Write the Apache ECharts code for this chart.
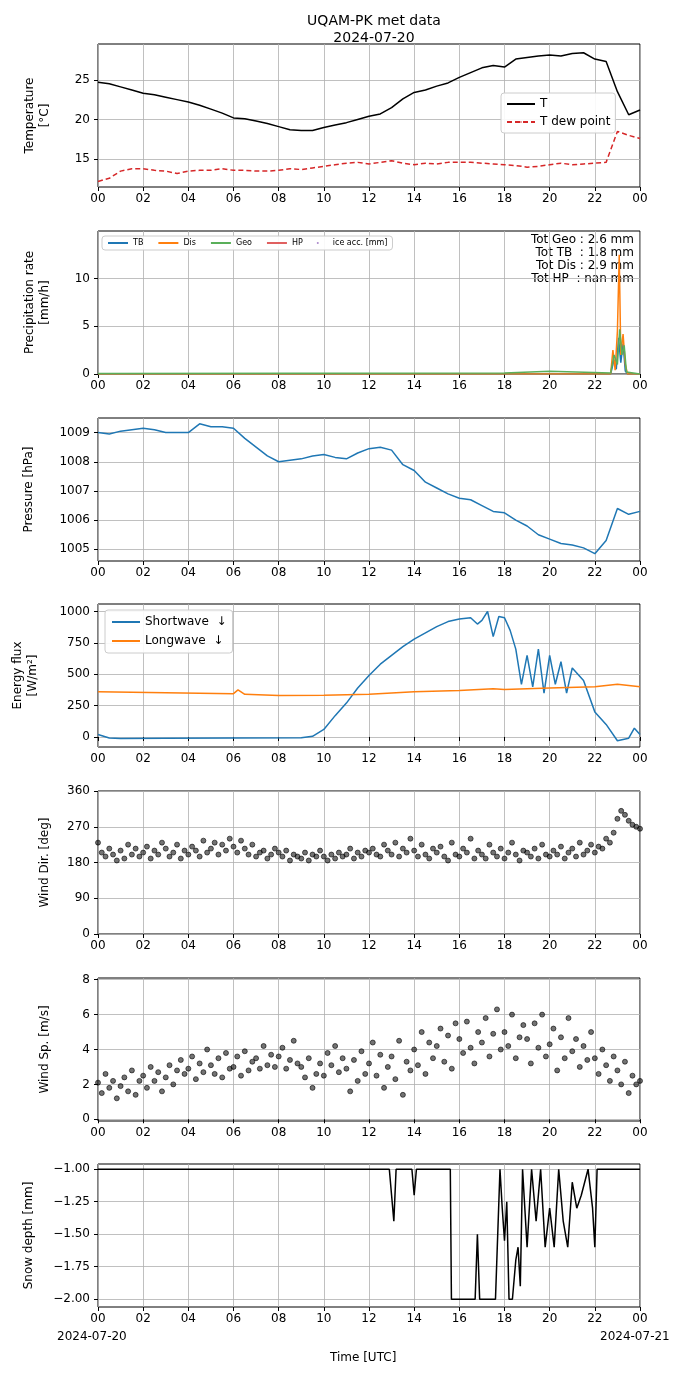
<!DOCTYPE html>
<html><head><meta charset="utf-8">
<script src="https://cdn.jsdelivr.net/npm/echarts@6/dist/echarts.min.js"></script>
<style>html,body{margin:0;padding:0;background:#fff}#c{width:690px;height:1377px}</style>
</head><body><div id="c"></div>
<script>
// half-hourly temperature (°C)
var tempT = [24.7,24.5,24.1,23.7,23.3,23.1,22.8,22.5,22.2,21.8,21.3,20.8,20.2,20.1,19.8,19.5,19.1,18.7,18.6,18.6,19.0,19.3,19.6,20.0,20.4,20.7,21.5,22.6,23.4,23.7,24.2,24.6,25.3,25.9,26.5,26.8,26.6,27.6,27.8,28.0,28.1,28.0,28.3,28.4,27.6,27.3,23.5,20.6,21.2];
var tempTd = [12.2,12.6,13.5,13.8,13.8,13.6,13.5,13.2,13.5,13.6,13.6,13.8,13.6,13.6,13.5,13.5,13.6,13.8,13.7,13.9,14.1,14.3,14.5,14.6,14.4,14.6,14.8,14.5,14.3,14.5,14.4,14.6,14.6,14.6,14.5,14.4,14.3,14.2,14.0,14.1,14.3,14.5,14.3,14.4,14.5,14.6,18.5,18.0,17.6];
// precipitation rate (mm/h), [hour, value]
var precTB = [[0,0],[22.7,0],[22.85,1.5],[22.95,0.5],[23.05,3.8],[23.15,1.2],[23.25,3.2],[23.35,0.3],[23.45,0],[24,0]];
var precDis = [[0,0],[22.7,0],[22.8,2.5],[22.9,0.4],[23.0,4.5],[23.08,12.5],[23.15,2.0],[23.25,4.2],[23.35,1.0],[23.45,0],[24,0]];
var precGeo = [[0,0.05],[18,0.1],[20,0.3],[22.7,0.1],[22.85,2.0],[23.0,1.0],[23.1,4.7],[23.2,2.0],[23.3,3.0],[23.4,0.2],[24,0]];
var precHP = [];
var iceAcc = [];
var precTotals = ['Tot Geo : 2.6 mm', 'Tot TB  : 1.8 mm', 'Tot Dis : 2.9 mm', 'Tot HP  : nan mm'];
// half-hourly pressure (hPa)
var pressure = [1009.0,1008.95,1009.05,1009.1,1009.15,1009.1,1009.0,1009.0,1009.0,1009.3,1009.2,1009.2,1009.15,1008.8,1008.5,1008.2,1008.0,1008.05,1008.1,1008.2,1008.25,1008.15,1008.1,1008.3,1008.45,1008.5,1008.4,1007.9,1007.7,1007.3,1007.1,1006.9,1006.75,1006.7,1006.5,1006.3,1006.25,1006.0,1005.8,1005.5,1005.35,1005.2,1005.15,1005.05,1004.85,1005.3,1006.4,1006.2,1006.3];
// radiation (W/m2), [hour, value]
var shortwave = [[0,20],[0.5,-8],[1,-12],[3,-10],[6,-8],[9,-6],[9.5,5],[10,60],[10.5,170],[11,270],[11.5,390],[12,490],[12.5,580],[13,650],[13.5,720],[14,780],[14.5,830],[15,880],[15.5,920],[16,940],[16.5,950],[16.8,900],[17,930],[17.25,1000],[17.5,800],[17.75,960],[18,950],[18.25,850],[18.5,700],[18.75,420],[19,650],[19.25,400],[19.5,700],[19.75,350],[20,650],[20.25,420],[20.5,600],[20.75,350],[21,550],[21.5,450],[22,200],[22.5,100],[23,-30],[23.5,-10],[23.75,70],[24,20]];
var longwave = [[0,360],[3,352],[6,345],[6.2,375],[6.5,340],[8,330],[10,333],[12,340],[14,360],[16,370],[17.5,385],[18,378],[20,390],[22,400],[23,420],[24,400]];
// 10-min wind direction (deg) and speed (m/s)
var windDir = [230,205,195,215,200,185, 210,190,225,200,215,195, 205,220,190,210,200,230, 215,195,205,225,190,210, 200,220,210,195,235,205, 215,230,200,225,210,240, 220,205,235,215,200,225, 195,205,210,190,200,215, 205,195,210,185,200,195, 190,205,185,200,195,210, 195,185,200,190,205,195, 200,215,190,205,195,210, 205,215,200,195,225,210, 200,230,195,215,205,240, 210,195,225,200,190,215, 205,220,195,185,230,200, 195,215,205,240,190,210, 200,190,225,205,195,215, 190,205,230,200,185,210, 205,195,215,190,225,200, 195,210,200,220,190,205, 215,195,230,200,210,225, 205,220,215,240,230,255, 290,310,300,285,275,270, 265];
var windSp = [2.1,1.5,2.6,1.8,2.2,1.2, 1.9,2.4,1.6,2.8,1.4,2.2, 2.5,1.8,3.0,2.2,2.7,1.6, 2.4,3.1,2.0,2.8,3.4,2.6, 2.9,3.6,2.3,3.2,2.7,4.0, 3.1,2.6,3.5,2.4,3.8,2.9, 3.0,3.6,2.5,3.9,2.8,3.3, 3.5,2.9,4.2,3.1,3.7,3.0, 3.6,4.1,2.9,3.4,4.5,3.2, 3.0,2.4,3.5,1.8,2.6,3.2, 2.5,3.8,3.1,4.2,2.7,3.5, 2.9,1.6,3.4,2.2,3.9,2.6, 3.2,4.4,2.5,3.7,1.8,3.0, 3.6,2.3,4.5,1.4,3.3,2.8, 4.0,3.1,5.0,2.6,4.4,3.5, 4.2,5.2,3.3,4.8,2.9,5.5, 4.6,3.8,5.6,4.1,3.2,5.0, 4.4,5.8,3.6,4.9,6.3,4.0, 5.0,4.2,6.0,3.5,4.7,5.4, 4.6,3.2,5.5,4.1,6.0,3.6, 4.3,5.2,2.8,4.7,3.5,5.8, 3.9,4.6,3.0,4.2,3.4,5.0, 3.5,2.6,4.0,3.1,2.2,3.6, 2.8,2.0,3.3,1.5,2.5,2.0, 2.2];
// snow depth (mm), [hour, value]
var snowDepth = [[0,-1],[12.9,-1],[13.0,-1.2],[13.1,-1.4],[13.2,-1],[13.9,-1],[14.0,-1.2],[14.1,-1],[15.6,-1],[15.65,-2],[16.7,-2],[16.8,-1.5],[16.9,-2],[17.6,-2],[17.8,-1],[17.9,-1.3],[18.0,-1.55],[18.1,-1.25],[18.2,-2],[18.35,-2],[18.5,-1.7],[18.6,-1.6],[18.7,-1.9],[18.8,-1.0],[19.0,-1.6],[19.2,-1.0],[19.4,-1.4],[19.6,-1.0],[19.8,-1.6],[20.0,-1.3],[20.2,-1.6],[20.4,-1.0],[20.6,-1.4],[20.8,-1.6],[21.0,-1.1],[21.2,-1.3],[21.4,-1.2],[21.7,-1.0],[21.9,-1.3],[22.0,-1.6],[22.1,-1.0],[24,-1]];

function series(arr, step) { return arr.map(function (v, i) { return [i * step, v]; }); }

var font = 'DejaVu Sans';
var tops = [44, 231, 418, 604, 791, 978, 1164];
var H = 143;
var grids = tops.map(function (t) { return { left: 98, width: 542, top: t, height: H, show: true, borderColor: '#000', borderWidth: 1 }; });
var splitLine = { show: true, lineStyle: { color: '#b0b0b0', width: 0.8 } };
var xAxes = tops.map(function (t, i) {
    return { type: 'value', gridIndex: i, min: 0, max: 24, interval: 2,
        axisLine: { show: false }, axisTick: { show: true, length: 4, lineStyle: { color: '#000' } },
        axisLabel: { color: '#000', fontFamily: font, fontSize: 12, margin: 6,
            formatter: function (v) { var h = v % 24; return (h < 10 ? '0' : '') + h; } },
        splitLine: splitLine };
});
function yAx(i, min, max, ticks, name, fmt) {
    return { type: 'value', gridIndex: i, min: min, max: max, name: name, nameLocation: 'middle',
        nameGap: 46, nameTextStyle: { color: '#000', fontFamily: font, fontSize: 12, lineHeight: 15 },
        axisLine: { show: false },
        axisTick: { show: true, length: 4, lineStyle: { color: '#000' }, customValues: ticks },
        axisLabel: { color: '#000', fontFamily: font, fontSize: 12, customValues: ticks, formatter: fmt || function (v) { return String(v); } },
        splitLine: splitLine };
}
var yAxes = [
    yAx(0, 11.5, 29.5, [15, 20, 25], 'Temperature\n[°C]'),
    yAx(1, 0, 15, [0, 5, 10], 'Precipitation rate\n[mm/h]'),
    yAx(2, 1004.6, 1009.5, [1005, 1006, 1007, 1008, 1009], 'Pressure [hPa]'),
    yAx(3, -80, 1060, [0, 250, 500, 750, 1000], 'Energy flux\n[W/m²]'),
    yAx(4, 0, 360, [0, 90, 180, 270, 360], 'Wind Dir. [deg]'),
    yAx(5, -0.1, 8.1, [0, 2, 4, 6, 8], 'Wind Sp. [m/s]'),
    yAx(6, -2.06, -0.96, [-2, -1.75, -1.5, -1.25, -1], 'Snow depth [mm]', function (v) { return v.toFixed(2).replace('-', '−'); })
];
yAxes[2].nameGap = 62; yAxes[3].nameGap = 58;
yAxes[6].nameGap = 62;

function line(name, data, xi, color, extra) {
    var s = { name: name, type: 'line', xAxisIndex: xi, yAxisIndex: xi, data: data, showSymbol: false, symbol: 'none',
        lineStyle: { color: color, width: 1.5 }, itemStyle: { color: color }, animation: false };
    for (var k in extra) s[k] = extra[k];
    return s;
}
function scatter(data, xi) {
    return { type: 'scatter', xAxisIndex: xi, yAxisIndex: xi, data: data, symbolSize: 5,
        itemStyle: { color: 'rgba(0,0,0,0.55)', borderColor: '#000', borderWidth: 0.6, opacity: 1 }, animation: false };
}

var legendBase = { backgroundColor: 'rgba(255,255,255,0.9)', borderColor: '#ccc', borderWidth: 1, borderRadius: 3,
    textStyle: { color: '#000', fontFamily: font } };

var option = {
    backgroundColor: '#fff',
    animation: false,
    title: { text: 'UQAM-PK met data\n2024-07-20', left: 369, top: 8, textAlign: 'center',
        textStyle: { fontFamily: font, fontSize: 14, fontWeight: 'normal', color: '#000', lineHeight: 17 } },
    grid: grids, xAxis: xAxes, yAxis: yAxes,
    legend: [
        Object.assign({ data: ['T', 'T dew point'], orient: 'vertical', left: 501, top: 93, itemWidth: 28, itemHeight: 2, itemGap: 6,
            padding: [5, 5] }, legendBase, { textStyle: { color: '#000', fontFamily: font, fontSize: 12 } }),
        Object.assign({ data: ['TB', 'Dis', 'Geo', 'HP', { name: 'ice acc. [mm]', icon: 'circle', itemStyle: { color: '#9467bd' } }],
            left: 102, top: 236, itemWidth: 20, itemHeight: 2, itemGap: 14,
            padding: [3, 5] }, legendBase, { textStyle: { color: '#000', fontFamily: font, fontSize: 8 } }),
        Object.assign({ data: ['Shortwave  ↓', 'Longwave  ↓'], orient: 'vertical', left: 105, top: 610, itemWidth: 28, itemHeight: 2, itemGap: 7,
            padding: [6, 6] }, legendBase, { textStyle: { color: '#000', fontFamily: font, fontSize: 12 } })
    ],
    graphic: [
        { type: 'text', x: 634, y: 233, style: { text: precTotals.join('\n'), font: '12px "DejaVu Sans"', fill: '#000', align: 'right', lineHeight: 13 } },
        { type: 'text', left: 57, top: 1331, style: { text: '2024-07-20', font: '12px "DejaVu Sans"', fill: '#000' } },
        { type: 'text', left: 600, top: 1331, style: { text: '2024-07-21', font: '12px "DejaVu Sans"', fill: '#000' } },
        { type: 'text', left: 330, top: 1352, style: { text: 'Time [UTC]', font: '12px "DejaVu Sans"', fill: '#000' } }
    ],
    series: [
        line('T', series(tempT, 0.5), 0, '#000'),
        line('T dew point', series(tempTd, 0.5), 0, '#d62728', { lineStyle: { color: '#d62728', width: 1.5, type: [5, 3] } }),
        line('TB', precTB, 1, '#1f77b4'),
        line('Dis', precDis, 1, '#ff7f0e'),
        line('Geo', precGeo, 1, '#5aaf5a'),
        line('HP', precHP, 1, '#e06060'),
        { name: 'ice acc. [mm]', type: 'scatter', xAxisIndex: 1, yAxisIndex: 1, data: iceAcc, symbolSize: 5, itemStyle: { color: '#9467bd' } },
        line('Pressure', series(pressure, 0.5), 2, '#1f77b4'),
        line('Shortwave  ↓', shortwave, 3, '#1f77b4'),
        line('Longwave  ↓', longwave, 3, '#ff7f0e'),
        scatter(series(windDir, 1 / 6), 4),
        scatter(series(windSp, 1 / 6), 5),
        line('Snow', snowDepth, 6, '#000')
    ]
};

var chart = echarts.init(document.getElementById('c'));
chart.setOption(option);
</script>
</body></html>
